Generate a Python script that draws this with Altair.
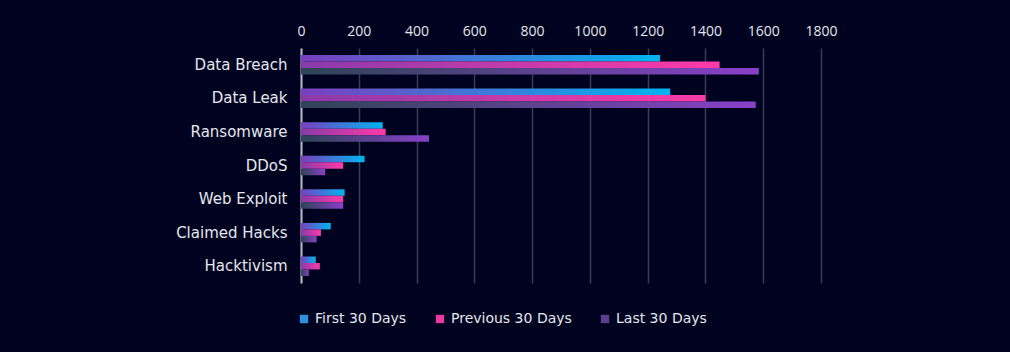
import altair as alt
import pandas as pd

categories = ["Data Breach", "Data Leak", "Ransomware", "DDoS", "Web Exploit", "Claimed Hacks", "Hacktivism"]
series = ["First 30 Days", "Previous 30 Days", "Last 30 Days"]
first_30 = [1243, 1278, 283, 220, 151, 103, 51]
previous_30 = [1449, 1400, 293, 146, 146, 69, 65]
last_30 = [1585, 1574, 443, 84, 146, 54, 27]
x_ticks = [0, 200, 400, 600, 800, 1000, 1200, 1400, 1600, 1800]

gradients = {
    "First 30 Days": ("#7a3fbf", "#00b4f0"),
    "Previous 30 Days": ("#8a3aaa", "#ff3aa8"),
    "Last 30 Days": ("#2e4456", "#8a40c8"),
}
legend_colors = ["#2f8fe0", "#e8389f", "#5a3f8f"]

rows = []
for s, vals in zip(series, [first_30, previous_30, last_30]):
    for c, v in zip(categories, vals):
        rows.append({"category": c, "series": s, "value": v})
df = pd.DataFrame(rows)

FONT = "DejaVu Sans"
TICKFONT = "Open Sans"
BG = "#00031f"

y_enc = alt.Y("category:N", sort=categories, title=None,
              scale=alt.Scale(paddingInner=0.42, paddingOuter=0.21),
              axis=alt.Axis(labelColor="#e6e6ee", labelFontSize=15, labelFont=FONT,
                            ticks=False, domain=True, domainColor="#b8b8c4",
                            domainWidth=2, labelPadding=14))
x_enc = alt.X("value:Q", title=None,
              scale=alt.Scale(domain=[0, 1800], nice=False),
              axis=alt.Axis(orient="top", values=x_ticks, format="d", labelColor="#e6e6ee",
                            labelFontSize=14, labelFont=TICKFONT, ticks=False,
                            domain=False, grid=True, gridColor="#3a3d58",
                            gridWidth=1.5, labelPadding=10, labelFlush=False))
yoff = alt.YOffset("series:N", scale=alt.Scale(domain=series, paddingInner=0, paddingOuter=0))

base = alt.Chart(df)
layers = []
for s in series:
    c0, c1 = gradients[s]
    grad = alt.Gradient(gradient="linear",
                        stops=[alt.GradientStop(color=c0, offset=0),
                               alt.GradientStop(color=c1, offset=1)],
                        x1=0, x2=1, y1=0, y2=0)
    layers.append(
        base.transform_filter(alt.datum.series == s)
        .mark_bar(color=grad, cornerRadius=0)
        .encode(x=x_enc, y=y_enc, yOffset=yoff)
    )

legend_layer = base.mark_bar(opacity=0).encode(
    x=x_enc, y=y_enc, yOffset=yoff,
    color=alt.Color("series:N", scale=alt.Scale(domain=series, range=legend_colors),
                    legend=alt.Legend(title=None, orient="none", direction="horizontal",
                                      legendX=-4, legendY=264, symbolType="square",
                                      symbolSize=70, symbolOpacity=1,
                                      labelColor="#e6e6ee", labelFontSize=14,
                                      labelFont=FONT, columnPadding=26,
                                      symbolStrokeWidth=0, labelOffset=4)),
)

chart = alt.layer(*layers, legend_layer).properties(
    width=520, height=235, background=BG,
    autosize=alt.AutoSizeParams(type="none"),
    padding={"left": 301, "top": 48, "right": 189, "bottom": 69},
).configure_view(stroke=None)

chart.save("out.html", embed_options={"renderer": "svg", "actions": False})
